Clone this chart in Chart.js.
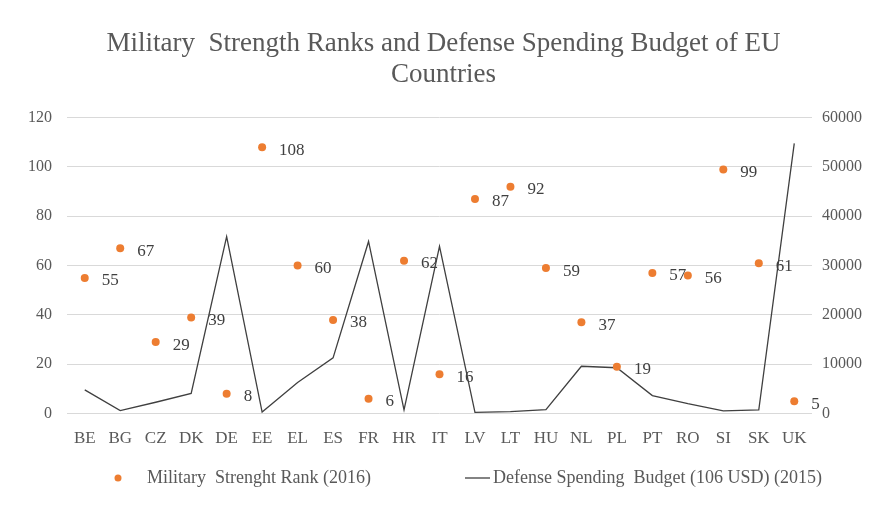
<!DOCTYPE html>
<html>
<head>
<meta charset="utf-8">
<script src="https://cdn.jsdelivr.net/npm/chart.js@4/dist/chart.umd.min.js"></script>
<style>
  body { margin: 0; background: #fff; }
</style>
</head>
<body>
<canvas id="chart" width="880" height="505"></canvas>
<script>
// data
const countries = ['BE','BG','CZ','DK','DE','EE','EL','ES','FR','HR','IT','LV','LT','HU','NL','PL','PT','RO','SI','SK','UK'];
const militaryRank = [55,67,29,39,8,108,60,38,6,62,16,87,92,59,37,19,57,56,99,61,5];
const defenseBudget = [4800,600,2300,4100,35900,300,6300,11300,34900,750,33900,250,400,800,9600,9300,3650,2000,550,750,54800];
const rankTicks = [0,20,40,60,80,100,120];
const budgetTicks = [0,10000,20000,30000,40000,50000,60000];

const serif = '"Liberation Serif", "Times New Roman", serif';
const orange = '#ED7D31';
const dark = '#404040';
const grey = '#595959';

// legend symbols (drawn wide so the text lands where the reference has it)
const dotImg = document.createElement('canvas');
dotImg.width = 108; dotImg.height = 10;
let g = dotImg.getContext('2d');
g.fillStyle = orange;
g.beginPath(); g.arc(88, 5, 3.5, 0, Math.PI * 2); g.fill();

const lineImg = document.createElement('canvas');
lineImg.width = 120; lineImg.height = 10;
g = lineImg.getContext('2d');
g.strokeStyle = dark; g.lineWidth = 1.3;
g.beginPath(); g.moveTo(95, 5); g.lineTo(120, 5); g.stroke();

// value labels next to the orange dots
const dotLabels = {
  id: 'dotLabels',
  afterDatasetsDraw(chart) {
    const ctx = chart.ctx;
    const meta = chart.getDatasetMeta(0);
    ctx.save();
    ctx.font = '17px ' + serif;
    ctx.fillStyle = dark;
    ctx.textAlign = 'left';
    ctx.textBaseline = 'middle';
    meta.data.forEach((pt, i) => {
      ctx.fillText(String(militaryRank[i]), pt.x + 17, pt.y + 3);
    });
    ctx.restore();
  }
};

new Chart(document.getElementById('chart'), {
  type: 'line',
  data: {
    labels: countries,
    datasets: [{
      label: 'Military  Strenght Rank (2016)',
      data: militaryRank,
      yAxisID: 'y',
      showLine: false,
      pointRadius: 4,
      pointBorderWidth: 0,
      pointBackgroundColor: orange,
      borderColor: orange
    }, {
      label: 'Defense Spending  Budget (106 USD) (2015)',
      data: defenseBudget,
      yAxisID: 'y2',
      borderColor: dark,
      borderWidth: 1.3,
      pointRadius: 0,
      tension: 0
    }]
  },
  options: {
    responsive: false,
    animation: false,
    layout: { padding: { left: 25, right: 18, top: 0, bottom: 8 } },
    plugins: {
      title: {
        display: true,
        text: ['Military  Strength Ranks and Defense Spending Budget of EU', 'Countries'],
        color: grey,
        font: { family: serif, size: 27, weight: 'normal', lineHeight: 1.16 },
        padding: { top: 28, bottom: 27 }
      },
      legend: {
        position: 'bottom',
        align: 'start',
        labels: {
          usePointStyle: true,
          pointStyleWidth: 108,
          padding: 5,
          color: grey,
          font: { family: serif, size: 18 },
          generateLabels: (chart) => chart.data.datasets.map((ds, i) => ({
            text: ds.label,
            pointStyle: i === 0 ? dotImg : lineImg,
            fillStyle: 'transparent',
            strokeStyle: 'transparent',
            lineWidth: 0,
            fontColor: grey,
            hidden: false,
            datasetIndex: i
          }))
        }
      },
      tooltip: { enabled: false }
    },
    scales: {
      x: {
        offset: true,
        grid: { display: false, drawTicks: false },
        border: { display: false },
        ticks: { color: grey, font: { family: serif, size: 17 }, padding: 15, maxRotation: 0, autoSkip: false }
      },
      y: {
        position: 'left',
        min: 0, max: 120,
        afterBuildTicks: (ax) => { ax.ticks = rankTicks.map(v => ({ value: v })); },
        afterFit: (ax) => { ax.width = 42; },
        grid: { color: '#d9d9d9', drawTicks: false },
        border: { display: false },
        ticks: { color: grey, font: { family: serif, size: 16 }, padding: 15 }
      },
      y2: {
        position: 'right',
        min: 0, max: 60000,
        afterBuildTicks: (ax) => { ax.ticks = budgetTicks.map(v => ({ value: v })); },
        afterFit: (ax) => { ax.width = 50; },
        grid: { display: false, drawTicks: false },
        border: { display: false },
        ticks: { color: grey, font: { family: serif, size: 16 }, padding: 10, callback: (v) => String(v) }
      }
    }
  },
  plugins: [dotLabels]
});
</script>
</body>
</html>
